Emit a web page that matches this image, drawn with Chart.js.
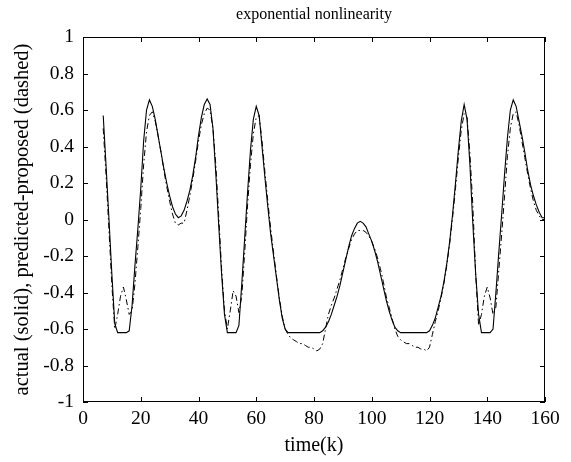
<!DOCTYPE html>
<html><head><meta charset="utf-8">
<script src="https://cdn.jsdelivr.net/npm/chart.js@4.4.1/dist/chart.umd.min.js"></script>
<style>html,body{margin:0;padding:0;background:#fff}#wrap{width:571px;height:462px}</style>
</head><body><div id="wrap"><canvas id="c" width="571" height="462"></canvas></div>
<script>
const chartTitle = 'exponential nonlinearity';
const xTitle = 'time(k)';
const yTitle = 'actual (solid), predicted-proposed (dashed)';
const xTicks = [0, 20, 40, 60, 80, 100, 120, 140, 160];
const yTicks = [-1, -0.8, -0.6, -0.4, -0.2, 0, 0.2, 0.4, 0.6, 0.8, 1];

const timeK = [7,8,9,10,11,12,13,14,15,16,17,18,19,20,21,22,23,24,25,26,27,28,29,30,31,32,33,34,35,36,37,38,39,40,
41,42,43,44,45,46,47,48,49,50,51,52,53,54,55,56,57,58,59,60,61,62,63,64,65,66,67,68,69,70,
71,72,73,74,75,76,77,78,79,80,81,82,83,84,85,86,87,88,89,90,91,92,93,94,95,96,97,98,99,100,
101,102,103,104,105,106,107,108,109,110,111,112,113,114,115,116,117,118,119,120,121,122,123,124,125,126,127,128,129,130,
131,132,133,134,135,136,137,138,139,140,141,142,143,144,145,146,147,148,149,150,151,152,153,154,155,156,157,158,159,160];

const actual = [
0.57,0.29,0.00,-0.30,-0.57,-0.62,-0.62,-0.62,-0.62,-0.61,-0.47,-0.25,-0.05,0.17,0.43,0.60,0.655,0.62,0.55,0.46,
0.37,0.28,0.20,0.13,0.07,0.03,0.01,0.02,0.05,0.10,0.16,0.24,0.34,0.46,0.56,0.63,0.66,0.63,0.50,0.25,
-0.03,-0.30,-0.52,-0.62,-0.62,-0.62,-0.62,-0.58,-0.35,-0.10,0.15,0.38,0.55,0.62,0.57,0.40,0.23,0.07,-0.08,-0.20,
-0.32,-0.44,-0.54,-0.60,-0.62,-0.62,-0.62,-0.62,-0.62,-0.62,-0.62,-0.62,-0.62,-0.62,-0.62,-0.62,-0.61,-0.59,-0.56,-0.52,
-0.47,-0.42,-0.36,-0.29,-0.22,-0.15,-0.09,-0.05,-0.02,-0.01,-0.02,-0.04,-0.08,-0.12,-0.17,-0.23,-0.30,-0.37,-0.44,-0.50,
-0.55,-0.59,-0.61,-0.62,-0.62,-0.62,-0.62,-0.62,-0.62,-0.62,-0.62,-0.62,-0.62,-0.61,-0.58,-0.54,-0.48,-0.42,-0.34,-0.24,
-0.12,0.03,0.20,0.38,0.54,0.63,0.55,0.30,-0.02,-0.30,-0.52,-0.62,-0.62,-0.62,-0.62,-0.60,-0.40,-0.18,0.03,0.25,
0.45,0.60,0.655,0.62,0.54,0.46,0.37,0.27,0.19,0.13,0.08,0.04,0.01,0.01];

const predicted = [
0.50,0.24,-0.06,-0.36,-0.60,-0.52,-0.42,-0.37,-0.44,-0.52,-0.50,-0.35,-0.15,0.06,0.30,0.48,0.57,0.59,0.54,0.46,
0.37,0.27,0.18,0.10,0.03,-0.02,-0.03,-0.02,-0.02,0.05,0.13,0.22,0.32,0.43,0.52,0.58,0.61,0.60,0.50,0.30,
0.02,-0.27,-0.50,-0.60,-0.50,-0.39,-0.42,-0.51,-0.42,-0.18,0.08,0.30,0.47,0.56,0.57,0.43,0.26,0.10,-0.05,-0.18,
-0.31,-0.43,-0.53,-0.60,-0.63,-0.65,-0.66,-0.67,-0.68,-0.68,-0.69,-0.70,-0.70,-0.71,-0.72,-0.71,-0.68,-0.60,-0.52,-0.47,
-0.43,-0.38,-0.33,-0.27,-0.21,-0.16,-0.11,-0.08,-0.06,-0.06,-0.06,-0.07,-0.09,-0.12,-0.16,-0.21,-0.27,-0.34,-0.42,-0.48,
-0.54,-0.60,-0.64,-0.66,-0.67,-0.68,-0.68,-0.69,-0.70,-0.70,-0.71,-0.71,-0.72,-0.70,-0.63,-0.56,-0.50,-0.43,-0.35,-0.25,
-0.13,0.01,0.17,0.34,0.49,0.58,0.56,0.36,0.08,-0.30,-0.58,-0.52,-0.42,-0.37,-0.43,-0.52,-0.48,-0.28,-0.08,0.13,
0.35,0.50,0.58,0.59,0.52,0.43,0.34,0.25,0.17,0.10,0.05,0.02,0.00,0.00];

const FONT = 'Liberation Serif, Times New Roman, serif';

const framePlugin = {
  id: 'frame',
  afterDraw(chart) {
    const {ctx, chartArea: a, scales: {x, y}} = chart;
    ctx.save();
    ctx.strokeStyle = '#000';
    ctx.lineWidth = 1;
    ctx.strokeRect(a.left + 0.5, a.top + 0.5, a.right - a.left - 1, a.bottom - a.top - 1);
    const tl = 5;
    ctx.beginPath();
    xTicks.forEach(v => {
      const px = Math.round(x.getPixelForValue(v)) + 0.5;
      ctx.moveTo(px, a.bottom); ctx.lineTo(px, a.bottom - tl);
      ctx.moveTo(px, a.top); ctx.lineTo(px, a.top + tl);
    });
    yTicks.forEach(v => {
      const py = Math.round(y.getPixelForValue(v)) + 0.5;
      ctx.moveTo(a.left, py); ctx.lineTo(a.left + tl, py);
      ctx.moveTo(a.right, py); ctx.lineTo(a.right - tl, py);
    });
    ctx.stroke();
    ctx.fillStyle = '#000';
    ctx.font = '16px ' + FONT;
    ctx.textAlign = 'center';
    ctx.textBaseline = 'alphabetic';
    ctx.fillText(chartTitle, (a.left + a.right) / 2, 19);
    ctx.restore();
  }
};

new Chart(document.getElementById('c'), {
  type: 'line',
  data: {
    datasets: [
      {
        label: 'actual',
        data: actual.map((v, i) => ({x: timeK[i], y: v})),
        borderColor: '#000', borderWidth: 1.1, pointRadius: 0, tension: 0, fill: false
      },
      {
        label: 'predicted-proposed',
        data: predicted.map((v, i) => ({x: timeK[i], y: v})),
        borderColor: '#000', borderWidth: 1, borderDash: [6, 3, 1.5, 3], pointRadius: 0, tension: 0, fill: false
      }
    ]
  },
  options: {
    responsive: false, animation: false, devicePixelRatio: 1,
    layout: {padding: {top: 37, right: 26, left: 0, bottom: 0}},
    plugins: {legend: {display: false}, tooltip: {enabled: false}, title: {display: false}},
    scales: {
      x: {
        type: 'linear', min: 0, max: 160,
        afterBuildTicks: s => { s.ticks = xTicks.map(v => ({value: v})); },
        afterFit: s => { s.height = 60; },
        grid: {display: false, drawTicks: false},
        border: {display: false},
        ticks: {color: '#000', font: {family: FONT, size: 19.5}, padding: 5, maxRotation: 0},
        title: {display: true, text: xTitle, color: '#000', font: {family: FONT, size: 20}, padding: {top: 0, bottom: 4}}
      },
      y: {
        type: 'linear', min: -1, max: 1,
        afterBuildTicks: s => { s.ticks = yTicks.map(v => ({value: v})); },
        afterFit: s => { s.width = 83; },
        grid: {display: false, drawTicks: false},
        border: {display: false},
        ticks: {color: '#000', font: {family: FONT, size: 19.5}, padding: 9,
          callback: v => String(Number(Number(v).toFixed(1)))},
        title: {display: true, text: yTitle, color: '#000', font: {family: FONT, size: 20.5}, padding: {top: 10, bottom: 0}}
      }
    }
  },
  plugins: [framePlugin]
});
</script>
</body></html>
